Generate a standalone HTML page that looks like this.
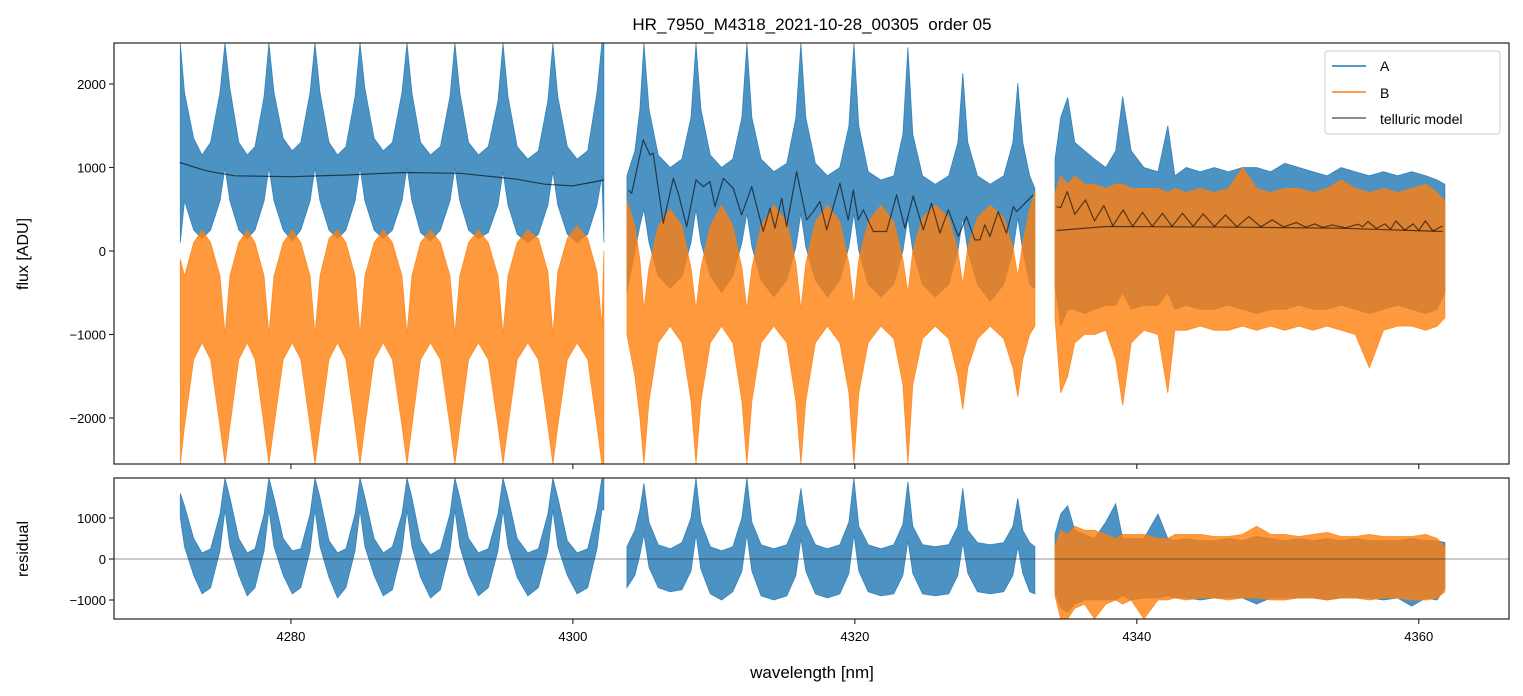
<!DOCTYPE html>
<html><head><meta charset="utf-8"><style>
html,body{margin:0;padding:0;background:#fff}
svg{display:block;font-family:"Liberation Sans","DejaVu Sans",sans-serif}
</style></head><body>
<svg id="chart" width="1523" height="696" viewBox="0 0 1523 696" xmlns="http://www.w3.org/2000/svg">
<defs>
<clipPath id="clipTop"><rect x="114" y="43" width="1395" height="421"/></clipPath>
<clipPath id="clipBot"><rect x="114" y="478" width="1395" height="141"/></clipPath>
</defs>
<rect x="0" y="0" width="1523" height="696" fill="#fff"/>
<text x="812" y="30" text-anchor="middle" font-size="17" fill="#000">HR_7950_M4318_2021-10-28_00305&#160; order 05</text>
<g id="topData" clip-path="url(#clipTop)"></g>
<g id="botData" clip-path="url(#clipBot)"></g>
<g id="axes"></g>
<text transform="translate(28,254) rotate(-90)" text-anchor="middle" font-size="16" fill="#000">flux [ADU]</text>
<text transform="translate(28,549) rotate(-90)" text-anchor="middle" font-size="16" fill="#000">residual</text>
<text x="812" y="678" text-anchor="middle" font-size="17" fill="#000">wavelength [nm]</text>
<g>
<rect x="1325" y="51" width="175" height="83" rx="3" fill="#fff" fill-opacity="0.85" stroke="#ccc"/>
<line x1="1332" y1="66" x2="1366" y2="66" stroke="#1f77b4" stroke-width="1.6"/>
<text x="1380" y="71" font-size="14">A</text>
<line x1="1332" y1="92" x2="1366" y2="92" stroke="#ff7f0e" stroke-width="1.6"/>
<text x="1380" y="98" font-size="14">B</text>
<line x1="1332" y1="118" x2="1366" y2="118" stroke="#000" stroke-opacity="0.6" stroke-width="1.6"/>
<text x="1380" y="124" font-size="14">telluric model</text>
</g>
</svg>
<script>
// ---- data ----
const xTicks = [4280, 4300, 4320, 4340, 4360];
const yTicksTop = [2000, 1000, 0, -1000, -2000];
const yTickLabelsTop = ["2000", "1000", "0", "\u22121000", "\u22122000"];
const yTicksBot = [1000, 0, -1000];
const yTickLabelsBot = ["1000", "0", "\u22121000"];

// segment 1 wavelengths
const wl1 = [4272.15,4272.45,4273.1,4273.7,4274.3,4274.97,
 4275.32,4275.67,4276.3,4276.9,4277.45,4278.1,
 4278.44,4278.8,4279.45,4280.1,4280.7,4281.36,
 4281.71,4282.06,4282.7,4283.3,4283.9,4284.55,
 4284.9,4285.25,4285.9,4286.55,4287.2,4287.88,
 4288.23,4288.58,4289.2,4289.9,4290.6,4291.28,
 4291.63,4291.98,4292.6,4293.3,4294.0,4294.69,
 4295.04,4295.4,4296.05,4296.8,4297.55,4298.23,
 4298.58,4298.93,4299.6,4300.3,4301.05,4301.71,
 4302.06,4302.2];
const aHi1 = [2490,1900,1350,1150,1300,1900, 2490,1950,1300,1150,1250,1850, 2490,1900,1350,1200,1300,1900, 2490,1900,1300,1150,1250,1850, 2490,1950,1350,1200,1300,1900, 2490,1900,1300,1150,1250,1850, 2490,1900,1300,1150,1250,1800, 2490,1850,1250,1100,1200,1800, 2490,1850,1250,1100,1200,1900, 2490,2490];
const aLo1 = [100,600,250,150,250,600, 1000,600,250,150,250,600, 1000,600,250,120,250,600, 1000,600,250,150,250,600, 1000,600,250,150,250,600, 1000,600,220,120,250,600, 1000,600,250,150,220,550, 950,550,200,100,200,550, 950,550,200,100,200,550, 900,100];
const bHi1 = [-100,-300,100,250,100,-300, -1000,-300,100,250,100,-300, -1000,-300,100,250,100,-300, -1000,-300,150,250,100,-300, -1000,-300,100,250,100,-300, -1000,-300,100,250,100,-300, -1000,-300,100,250,100,-300, -1000,-300,100,250,150,-250, -1000,-250,150,300,150,-250, -900,0];
const bLo1 = [-2550,-2100,-1300,-1100,-1300,-2100, -2550,-2100,-1300,-1100,-1300,-2100, -2550,-2100,-1300,-1100,-1300,-2100, -2550,-2100,-1300,-1100,-1300,-2100, -2550,-2100,-1300,-1100,-1300,-2100, -2550,-2100,-1300,-1100,-1300,-2100, -2550,-2100,-1300,-1100,-1300,-2100, -2550,-2100,-1300,-1100,-1300,-2100, -2550,-2100,-1300,-1100,-1300,-2100, -2550,-2550];
const rHi1 = [1600,1300,500,150,250,1100, 1976,1500,500,150,250,1100, 1976,1500,500,200,250,1100, 1976,1500,450,150,250,1100, 1976,1500,500,150,300,1100, 1976,1500,450,100,250,1100, 1976,1500,500,150,250,1100, 1976,1500,500,150,250,1100, 1976,1500,450,150,250,1200, 1976,1976];
const rLo1 = [1000,300,-400,-850,-700,200, 1200,300,-400,-900,-700,200, 1200,300,-400,-850,-700,200, 1200,300,-450,-950,-700,200, 1200,300,-400,-900,-750,200, 1200,300,-450,-950,-750,200, 1200,300,-400,-900,-700,200, 1200,300,-450,-900,-700,200, 1200,300,-400,-850,-700,250, 1200,1200];

// segment 2
const wl2 = [4303.83,4304.4,4304.75,
 4305.04,4305.4,4306.05,4306.9,4307.73,4308.38,
 4308.73,4309.08,4309.75,4310.55,4311.34,4311.99,
 4312.34,4312.7,4313.35,4314.25,4315.17,4315.82,
 4316.17,4316.52,4317.2,4318.05,4318.93,4319.58,
 4319.93,4320.28,4320.95,4321.85,4322.76,4323.41,
 4323.76,4324.11,4324.8,4325.7,4326.66,4327.31,
 4327.66,4328.01,4328.7,4329.6,4330.56,4331.21,
 4331.56,4331.91,4332.4,4332.77];
const aHi2 = [900,1200,1700, 2490,1700,1150,1000,1100,1600, 2490,1700,1150,1000,1100,1600, 2490,1600,1100,950,1050,1600, 2490,1600,1050,900,1000,1500, 2490,1500,950,850,900,1400, 2440,1400,900,800,900,1300, 2130,1300,900,800,900,1300, 2010,1300,900,750];
const aLo2 = [-500,0,300, 500,100,-300,-450,-300,100, 500,100,-300,-500,-300,100, 450,50,-350,-550,-350,50, 450,50,-350,-550,-350,50, 450,0,-400,-550,-400,0, 400,0,-400,-550,-400,0, 400,0,-400,-600,-400,0, 400,0,-400,-450];
const bHi2 = [600,300,-100, -700,-200,300,500,300,-200, -700,-200,300,550,300,-200, -700,-200,300,550,350,-150, -700,-150,350,550,350,-150, -650,-100,350,550,350,-100, -500,0,400,550,400,0, -400,50,400,550,400,50, -300,100,500,700];
const bLo2 = [-1000,-1500,-2000, -2550,-1800,-1100,-900,-1100,-1800, -2550,-1800,-1100,-900,-1100,-1800, -2550,-1800,-1100,-900,-1100,-1800, -2550,-1800,-1100,-900,-1100,-1700, -2550,-1700,-1100,-900,-1050,-1600, -2550,-1600,-1050,-900,-1050,-1500, -1900,-1400,-1050,-900,-1050,-1400, -1750,-1300,-1000,-900];
const rHi2 = [300,700,1200, 1846,900,350,250,400,1000, 1976,900,300,200,300,1000, 1976,900,350,250,350,900, 1724,850,350,250,350,900, 1976,800,350,250,350,850, 1887,800,350,300,350,800, 1724,700,400,350,400,800, 1480,700,400,300];
const rLo2 = [-700,-400,100, 600,-200,-700,-800,-750,-300, 600,-250,-850,-1000,-800,-300, 600,-300,-900,-1000,-900,-400, 500,-300,-850,-950,-850,-350, 600,-300,-800,-900,-850,-400, 450,-350,-850,-900,-850,-400, 400,-350,-800,-850,-800,-400, 300,-350,-800,-850];

// segment 3
const wl3 = [4334.2,4334.6,4335.1,4335.6,4336.3,4337.0,4337.8,4338.5,4339.0,4339.6,4340.5,4341.5,4342.2,4342.7,4343.5,4344.5,4345.5,4346.5,4347.5,4348.5,4349.5,4350.5,4351.5,4352.5,4353.5,4354.5,4355.5,4356.5,4357.5,4358.5,4359.5,4360.5,4361.3,4361.85];
const aHi3 = [1100,1600,1840,1300,1200,1100,1000,1200,1850,1200,1000,950,1500,900,1000,950,1000,950,1000,1000,950,1050,1000,950,900,1000,950,900,950,900,950,900,850,800];
const aLo3 = [-400,-900,-700,-700,-750,-700,-650,-650,-500,-700,-650,-650,-500,-700,-650,-700,-700,-650,-700,-750,-700,-700,-650,-700,-700,-650,-700,-750,-700,-650,-700,-750,-700,-500];
const bHi3 = [700,900,800,900,800,800,750,800,800,750,750,750,700,750,700,750,700,750,1000,750,700,750,750,700,750,850,750,700,750,700,750,800,700,600];
const bLo3 = [-800,-1700,-1500,-1100,-1000,-1000,-950,-1300,-1850,-1100,-950,-1000,-1700,-950,-950,-900,-950,-950,-900,-950,-900,-950,-900,-950,-900,-950,-1000,-1400,-950,-900,-900,-950,-900,-800];
const rAHi3 = [600,1100,1300,700,600,500,900,1350,500,500,500,1100,500,450,500,450,450,500,450,550,500,450,500,450,500,450,500,450,450,450,500,450,450,400];
const rALo3 = [-800,-1200,-1300,-1100,-1000,-1000,-1000,-1000,-900,-1000,-950,-950,-900,-950,-950,-1000,-950,-950,-950,-1100,-950,-950,-950,-950,-1000,-950,-950,-950,-1000,-950,-1150,-950,-1000,-700];
const rBHi3 = [300,700,600,800,700,700,600,500,600,600,600,500,500,600,600,600,550,550,600,800,600,600,550,600,650,550,550,600,550,550,550,600,500,300];
const rBLo3 = [-900,-1460,-1460,-1200,-1100,-1460,-1100,-1000,-1100,-1000,-1460,-1000,-1000,-950,-1000,-950,-950,-1000,-950,-950,-1000,-1000,-950,-950,-1000,-950,-950,-1000,-950,-950,-1000,-1000,-950,-800];

// telluric model
const tWl1 = [4272.1,4274,4276,4280,4284,4288,4292,4296,4298,4300,4302.2];
const tVal1 = [1060,960,900,890,910,940,930,860,800,780,850];
const tWl2 = [4303.93,4304.17,4304.99,4305.47,4305.7,4306.41,4307.12,4307.48,4308.07,4308.73,4309.25,4309.72,4310.08,4310.67,4311.38,4311.97,4312.68,4313.5,4313.98,4314.33,4314.81,4315.16,4315.87,4316.58,4317.05,4317.52,4318.0,4318.94,4319.53,4319.89,4320.24,4320.6,4321.31,4322.25,4322.96,4323.55,4324.14,4324.85,4325.44,4326.03,4326.63,4327.34,4327.92,4328.51,4328.87,4329.22,4329.58,4330.17,4330.76,4331.24,4331.47,4332.65];
const tVal2 = [731,691,1330,1150,1170,332,871,691,292,851,771,831,532,871,751,432,771,233,512,273,632,292,951,372,472,592,253,811,372,731,372,492,233,233,672,273,660,253,572,213,492,173,412,133,133,313,173,472,213,532,472,672];
const tWl3 = [4334.3,4334.6,4335.06,4335.6,4336.36,4337.0,4337.66,4338.3,4339.03,4339.7,4340.4,4341.1,4341.82,4342.5,4343.24,4344.0,4344.7,4345.5,4346.29,4347.1,4347.94,4348.8,4349.6,4350.4,4351.32,4352.0,4352.62,4353.2,4353.85,4354.8,4355.7,4356.0,4356.4,4357.0,4357.6,4358.0,4358.37,4359.0,4359.6,4360.0,4360.47,4361.0,4361.7];
const tVal3 = [530,520,711,440,612,360,544,300,492,295,464,295,452,295,452,295,444,295,432,290,412,290,372,288,340,285,325,282,313,278,321,290,352,270,325,260,360,250,325,245,360,240,300];
const tBaseWl = [4334.3,4337.85,4347.3,4354.4,4361.7];
const tBaseVal = [245,293,285,273,233];

// ---- axis functions ----
const X0 = 114, X1 = 1509, XMIN = 4267.45, XMAX = 4366.4;
const xs = w => X0 + (w - XMIN) / (XMAX - XMIN) * (X1 - X0);
const TY0 = 43, TY1 = 464, TMAX = 2491, TMIN = -2551;
const yt = v => TY0 + (TMAX - v) / (TMAX - TMIN) * (TY1 - TY0);
const BY0 = 478, BY1 = 619, BMAX = 1976, BMIN = -1463;
const yb = v => BY0 + (BMAX - v) / (BMAX - BMIN) * (BY1 - BY0);

const NS = "http://www.w3.org/2000/svg";
const topG = document.getElementById('topData');
const botG = document.getElementById('botData');
const axG = document.getElementById('axes');

function band(g, wl, hi, lo, ys, color, name) {
  let d = "";
  for (let i = 0; i < wl.length; i++) d += (i ? "L" : "M") + xs(wl[i]).toFixed(1) + "," + ys(hi[i]).toFixed(1);
  for (let i = wl.length - 1; i >= 0; i--) d += "L" + xs(wl[i]).toFixed(1) + "," + ys(lo[i]).toFixed(1);
  d += "Z";
  const p = document.createElementNS(NS, 'path');
  p.setAttribute('d', d);
  p.setAttribute('fill', color);
  p.setAttribute('fill-opacity', '0.8');
  p.setAttribute('stroke', color);
  p.setAttribute('stroke-opacity', '0.8');
  p.setAttribute('stroke-width', '0.8');
  
  
  g.appendChild(p);
}
function line(g, wl, val, ys, name) {
  let d = "";
  for (let i = 0; i < wl.length; i++) d += (i ? "L" : "M") + xs(wl[i]).toFixed(1) + "," + ys(val[i]).toFixed(1);
  const p = document.createElementNS(NS, 'path');
  p.setAttribute('d', d);
  p.setAttribute('fill', 'none');
  p.setAttribute('stroke', '#000');
  p.setAttribute('stroke-opacity', '0.6');
  p.setAttribute('stroke-width', '1.2');
  p.setAttribute('stroke-linejoin', 'round');
  
  
  g.appendChild(p);
}
const BLUE = '#1f77b4', ORANGE = '#ff7f0e';

// top panel
band(topG, wl1, aHi1, aLo1, yt, BLUE, 'series-a-segment-1');
band(topG, wl2, aHi2, aLo2, yt, BLUE, 'series-a-segment-2');
band(topG, wl3, aHi3, aLo3, yt, BLUE, 'series-a-segment-3');
band(topG, wl1, bHi1, bLo1, yt, ORANGE, 'series-b-segment-1');
band(topG, wl2, bHi2, bLo2, yt, ORANGE, 'series-b-segment-2');
band(topG, wl3, bHi3, bLo3, yt, ORANGE, 'series-b-segment-3');
line(topG, tWl1, tVal1, yt, 'telluric-model-segment-1');
line(topG, tWl2, tVal2, yt, 'telluric-model-segment-2');
line(topG, tWl3, tVal3, yt, 'telluric-model-segment-3');
line(topG, tBaseWl, tBaseVal, yt, 'telluric-model-segment-3-baseline');

// bottom panel
band(botG, wl1, rHi1, rLo1, yb, BLUE, 'residual-a-segment-1');
band(botG, wl2, rHi2, rLo2, yb, BLUE, 'residual-a-segment-2');
band(botG, wl3, rAHi3, rALo3, yb, BLUE, 'residual-a-segment-3');
band(botG, wl3, rBHi3, rBLo3, yb, ORANGE, 'residual-b-segment-3');
const zl = document.createElementNS(NS, 'line');
zl.setAttribute('x1', X0); zl.setAttribute('x2', X1);
zl.setAttribute('y1', yb(0)); zl.setAttribute('y2', yb(0));
zl.setAttribute('stroke', '#000'); zl.setAttribute('stroke-opacity', '0.55'); zl.setAttribute('stroke-width', '0.8');


botG.appendChild(zl);

// axes frames
function frame(y0, y1, name) {
  const r = document.createElementNS(NS, 'rect');
  r.setAttribute('x', X0); r.setAttribute('y', y0);
  r.setAttribute('width', X1 - X0); r.setAttribute('height', y1 - y0);
  r.setAttribute('fill', 'none'); r.setAttribute('stroke', '#222'); r.setAttribute('stroke-width', '1.2');
  
  
  axG.appendChild(r);
}
frame(TY0, TY1, 'flux-axes-frame');
frame(BY0, BY1, 'residual-axes-frame');

function tick(x1, y1, x2, y2, name) {
  const l = document.createElementNS(NS, 'line');
  l.setAttribute('x1', x1); l.setAttribute('y1', y1); l.setAttribute('x2', x2); l.setAttribute('y2', y2);
  l.setAttribute('stroke', '#222'); l.setAttribute('stroke-width', '1.1');
  
  
  axG.appendChild(l);
}
function label(x, y, txt, anchor, name) {
  const t = document.createElementNS(NS, 'text');
  t.setAttribute('x', x); t.setAttribute('y', y);
  t.setAttribute('text-anchor', anchor); t.setAttribute('font-size', '13');
  t.textContent = txt;
  
  
  axG.appendChild(t);
}
xTicks.forEach(v => {
  const x = xs(v);
  tick(x, TY1, x, TY1 + 5, 'x-tick-top-panel');
  tick(x, BY1, x, BY1 + 5, 'x-tick');
  label(x, BY1 + 22, String(v), 'middle', 'x-tick-label');
});
yTicksTop.forEach((v, i) => {
  const y = yt(v);
  tick(X0 - 5, y, X0, y, 'y-tick-flux');
  label(X0 - 8, y + 5, yTickLabelsTop[i], 'end', 'y-tick-label-flux');
});
yTicksBot.forEach((v, i) => {
  const y = yb(v);
  tick(X0 - 5, y, X0, y, 'y-tick-residual');
  label(X0 - 8, y + 5, yTickLabelsBot[i], 'end', 'y-tick-label-residual');
});
</script>
</body></html>
